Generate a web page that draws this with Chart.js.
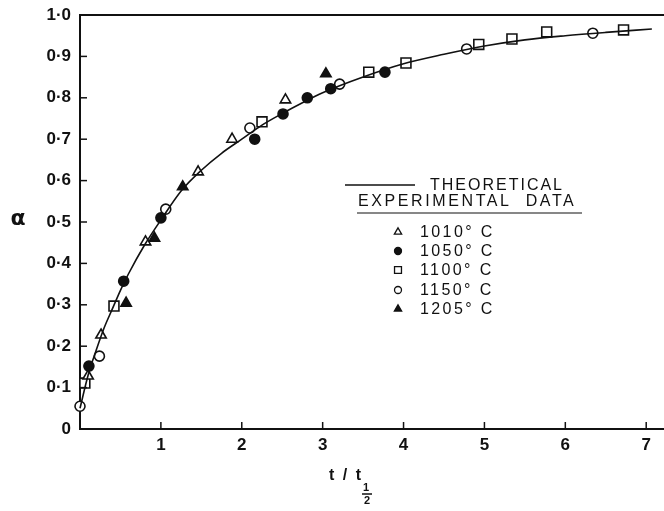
<!DOCTYPE html>
<html>
<head>
<meta charset="utf-8">
<script src="https://cdn.jsdelivr.net/npm/chart.js@4.4.0/dist/chart.umd.min.js"></script>
<style>
  body { margin: 0; background: #fff; }
  #wrap { width: 664px; height: 511px; }
</style>
</head>
<body>
<div id="wrap"><canvas id="chart" width="664" height="511"></canvas></div>
<script>
// tick values and labels
const xTicks = [1, 2, 3, 4, 5, 6, 7];
const yTicks = [0, 0.1, 0.2, 0.3, 0.4, 0.5, 0.6, 0.7, 0.8, 0.9, 1.0];
const yTickLabels = ['0', '0·1', '0·2', '0·3', '0·4', '0·5', '0·6', '0·7', '0·8', '0·9', '1·0'];

// theoretical curve
const theoX = [0, 0.1, 0.2, 0.3, 0.4, 0.5, 0.6, 0.8, 1.0, 1.25, 1.5, 1.75, 2.0, 2.25, 2.5, 2.75, 3.0, 3.5, 4.0, 4.5, 5.0, 5.5, 6.0, 6.5, 7.07];
const theoY = [0.05, 0.13, 0.19, 0.245, 0.29, 0.335, 0.375, 0.445, 0.505, 0.575, 0.625, 0.666, 0.70, 0.734, 0.762, 0.788, 0.812, 0.85, 0.882, 0.905, 0.925, 0.94, 0.95, 0.958, 0.966];

// experimental points
const t1010X = [0.10, 0.26, 0.81, 1.46, 1.88, 2.54];
const t1010Y = [0.128, 0.227, 0.452, 0.621, 0.70, 0.795];
const t1050X = [0.11, 0.54, 1.00, 2.16, 2.51, 2.81, 3.10, 3.77];
const t1050Y = [0.152, 0.357, 0.51, 0.70, 0.761, 0.80, 0.822, 0.862];
const t1100X = [0.06, 0.42, 2.25, 3.57, 4.03, 4.93, 5.34, 5.77, 6.72];
const t1100Y = [0.111, 0.297, 0.742, 0.862, 0.884, 0.929, 0.942, 0.959, 0.964];
const t1150X = [0.0, 0.24, 1.06, 2.10, 3.21, 4.78, 6.34];
const t1150Y = [0.055, 0.176, 0.531, 0.727, 0.833, 0.918, 0.956];
const t1205X = [0.57, 0.92, 1.27, 3.04];
const t1205Y = [0.304, 0.461, 0.585, 0.858];

const seriesNames = ['1010°C', '1050°C', '1100°C', '1150°C', '1205°C'];

const pts = (xs, ys) => xs.map((x, i) => ({ x, y: ys[i] }));

const markers = [
  { style: 'triangle', fill: '#fff', r: 6 },
  { style: 'circle', fill: '#111', r: 5 },
  { style: 'rect', fill: '#fff', r: 7 },
  { style: 'circle', fill: '#fff', r: 5 },
  { style: 'triangle', fill: '#111', r: 6 },
];

const pointSets = [
  pts(t1010X, t1010Y),
  pts(t1050X, t1050Y),
  pts(t1100X, t1100Y),
  pts(t1150X, t1150Y),
  pts(t1205X, t1205Y),
];

const datasets = [
  {
    label: 'THEORETICAL',
    data: pts(theoX, theoY),
    showLine: true,
    borderColor: '#111',
    borderWidth: 1.6,
    pointRadius: 0,
    cubicInterpolationMode: 'monotone',
    clip: false,
  },
  ...pointSets.map((data, i) => ({
    label: seriesNames[i],
    data,
    showLine: false,
    pointStyle: markers[i].style,
    pointRadius: markers[i].r,
    pointBackgroundColor: markers[i].fill,
    pointBorderColor: '#111',
    pointBorderWidth: 1.6,
    clip: false,
  })),
];

const decorPlugin = {
  id: 'decor',
  afterDraw(chart) {
    const { ctx, chartArea } = chart;
    const xs = chart.scales.x;
    const ys = chart.scales.y;
    ctx.save();
    ctx.strokeStyle = '#111';
    ctx.fillStyle = '#111';

    // top frame line
    ctx.lineWidth = 2;
    ctx.beginPath();
    ctx.moveTo(chartArea.left, chartArea.top);
    ctx.lineTo(664, chartArea.top);
    ctx.stroke();

    // inward ticks
    ctx.lineWidth = 1.5;
    xTicks.forEach((v) => {
      const px = xs.getPixelForValue(v);
      ctx.beginPath();
      ctx.moveTo(px, chartArea.bottom);
      ctx.lineTo(px, chartArea.bottom - 7);
      ctx.stroke();
    });
    yTicks.slice(1, -1).forEach((v) => {
      const py = ys.getPixelForValue(v);
      ctx.beginPath();
      ctx.moveTo(chartArea.left, py);
      ctx.lineTo(chartArea.left + 7, py);
      ctx.stroke();
    });

    // axis titles
    ctx.textAlign = 'center';
    ctx.textBaseline = 'middle';
    ctx.font = 'bold 22px "DejaVu Sans"';
    ctx.fillText('α', 18, 219);
    ctx.font = 'bold 16px "Liberation Sans"';
    ctx.letterSpacing = '2px';
    ctx.fillText('t / t', 346, 476);
    ctx.letterSpacing = '0px';
    ctx.font = 'bold 11px "Liberation Sans"';
    ctx.fillText('1', 366, 488);
    ctx.fillText('2', 367, 501);
    ctx.lineWidth = 1.5;
    ctx.beginPath();
    ctx.moveTo(362, 494);
    ctx.lineTo(372, 494);
    ctx.stroke();

    // legend
    ctx.textAlign = 'left';
    ctx.font = '16px "Liberation Sans"';
    ctx.letterSpacing = '2px';
    ctx.lineWidth = 1.6;
    ctx.beginPath();
    ctx.moveTo(345, 185);
    ctx.lineTo(415, 185);
    ctx.stroke();
    ctx.fillText('THEORETICAL', 430, 186);
    ctx.letterSpacing = '2.6px';
    ctx.fillText('EXPERIMENTAL  DATA', 358, 202);
    ctx.lineWidth = 1.2;
    ctx.beginPath();
    ctx.moveTo(357, 213);
    ctx.lineTo(582, 213);
    ctx.stroke();

    ctx.letterSpacing = '2.4px';
    const rowY = [232, 251, 270, 290, 309];
    seriesNames.forEach((name, i) => {
      const m = markers[i];
      ctx.fillStyle = m.fill;
      ctx.strokeStyle = '#111';
      ctx.lineWidth = 1.3;
      Chart.helpers.drawPoint(ctx, {
        pointStyle: m.style,
        radius: m.r * 0.7,
        borderWidth: 1.3,
        rotation: 0,
      }, 398, rowY[i]);
      ctx.fillStyle = '#111';
      ctx.fillText(name.replace('°', '° '), 420, rowY[i] + 1);
    });
    ctx.restore();
  },
};

new Chart(document.getElementById('chart'), {
  type: 'scatter',
  data: { datasets },
  plugins: [decorPlugin],
  options: {
    responsive: false,
    animation: false,
    layout: { autoPadding: false, padding: { top: 15, right: 0, bottom: 0, left: 0 } },
    plugins: {
      legend: { display: false },
      tooltip: { enabled: false },
    },
    scales: {
      x: {
        type: 'linear',
        min: 0,
        max: 7.22,
        afterFit: (scale) => {
          scale.height = 82;
          scale.paddingLeft = 0;
          scale.paddingRight = 0;
        },
        afterBuildTicks: (scale) => { scale.ticks = xTicks.map((v) => ({ value: v })); },
        grid: { display: true, drawOnChartArea: false, drawTicks: false },
        border: { display: true, color: '#111', width: 2 },
        ticks: {
          padding: 6,
          color: '#111',
          font: { family: 'Liberation Sans', size: 17, weight: 'bold' },
          callback: (v) => String(v),
        },
      },
      y: {
        type: 'linear',
        min: 0,
        max: 1,
        afterFit: (scale) => {
          scale.width = 80;
          scale.paddingTop = 0;
          scale.paddingBottom = 0;
        },
        afterBuildTicks: (scale) => { scale.ticks = yTicks.map((v) => ({ value: v })); },
        grid: { display: true, drawOnChartArea: false, drawTicks: false },
        border: { display: true, color: '#111', width: 2 },
        ticks: {
          padding: 9,
          color: '#111',
          font: { family: 'Liberation Sans', size: 17, weight: 'bold' },
          callback: (v) => {
            const i = yTicks.findIndex((t) => Math.abs(t - v) < 1e-6);
            return i >= 0 ? yTickLabels[i] : '';
          },
        },
      },
    },
  },
});
</script>
</body>
</html>
